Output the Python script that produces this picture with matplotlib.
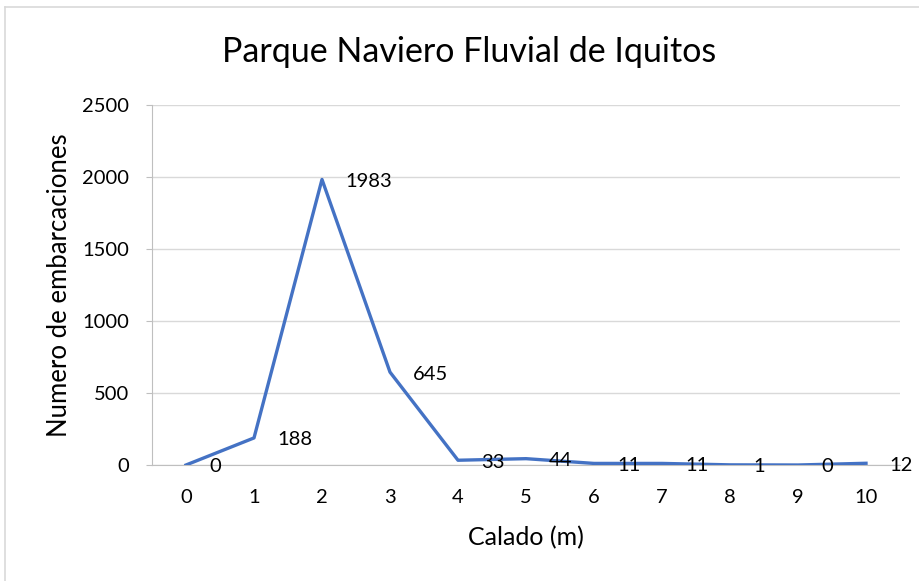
import matplotlib
matplotlib.use("Agg")
import matplotlib.pyplot as plt
from matplotlib.transforms import offset_copy

categories = ["0", "1", "2", "3", "4", "5", "6", "7", "8", "9", "10"]
values = [0, 188, 1983, 645, 33, 44, 11, 11, 1, 0, 12]
yticks = [0, 500, 1000, 1500, 2000, 2500]

plt.rcParams['font.family'] = ['Lato', 'DejaVu Sans']

W, H = 920, 581
fig = plt.figure(figsize=(W / 100, H / 100), dpi=100)
fig.patch.set_facecolor('white')

# figure border (left & top visible)
fig.add_artist(plt.Line2D([5 / W, 5 / W], [0, 1 - 7 / H], color='#d9d9d9', lw=1.2, transform=fig.transFigure))
fig.add_artist(plt.Line2D([5 / W, 1], [1 - 7 / H, 1 - 7 / H], color='#d9d9d9', lw=1.2, transform=fig.transFigure))

left, right = 152, 900
top, bottom = 105, 465
ax = fig.add_axes([left / W, 1 - bottom / H, (right - left) / W, (bottom - top) / H])

x = list(range(len(categories)))
ax.plot(x, values, color='#4472C4', lw=2.4, solid_joinstyle='round', zorder=3)
ax.set_xlim(-0.5, len(categories) - 0.5)
ax.set_ylim(0, 2500)
ax.set_yticks(yticks)
ax.set_yticklabels([str(v) for v in yticks])
ax.set_xticks(x)
ax.set_xticklabels(categories)

ax.grid(axis='y', color='#d9d9d9', lw=1)
ax.set_axisbelow(True)
for s in ['top', 'right']:
    ax.spines[s].set_visible(False)
ax.spines['left'].set_color('#bfbfbf')
ax.spines['bottom'].set_color('#bfbfbf')
ax.spines['bottom'].set_zorder(2)
ax.tick_params(axis='y', length=4.5, color='#bfbfbf', labelsize=14.5, pad=12, labelcolor='black')
ax.tick_params(axis='x', length=0, labelsize=14.5, pad=17, labelcolor='black')

for xi, v in zip(x, values):
    tr = offset_copy(ax.transData, fig=fig, x=23, y=-2, units='dots')
    ax.text(xi, v, str(v), transform=tr, ha='left', va='center', fontsize=14.5, clip_on=False)

ax.set_xlabel('Calado (m)', fontsize=18, labelpad=15)
ax.set_ylabel('Numero de embarcaciones', fontsize=18.5, labelpad=7)
fig.text(469 / W, 1 - 52 / H, 'Parque Naviero Fluvial de Iquitos', ha='center', va='center', fontsize=24.5)

fig.savefig('out.png', dpi=100)
